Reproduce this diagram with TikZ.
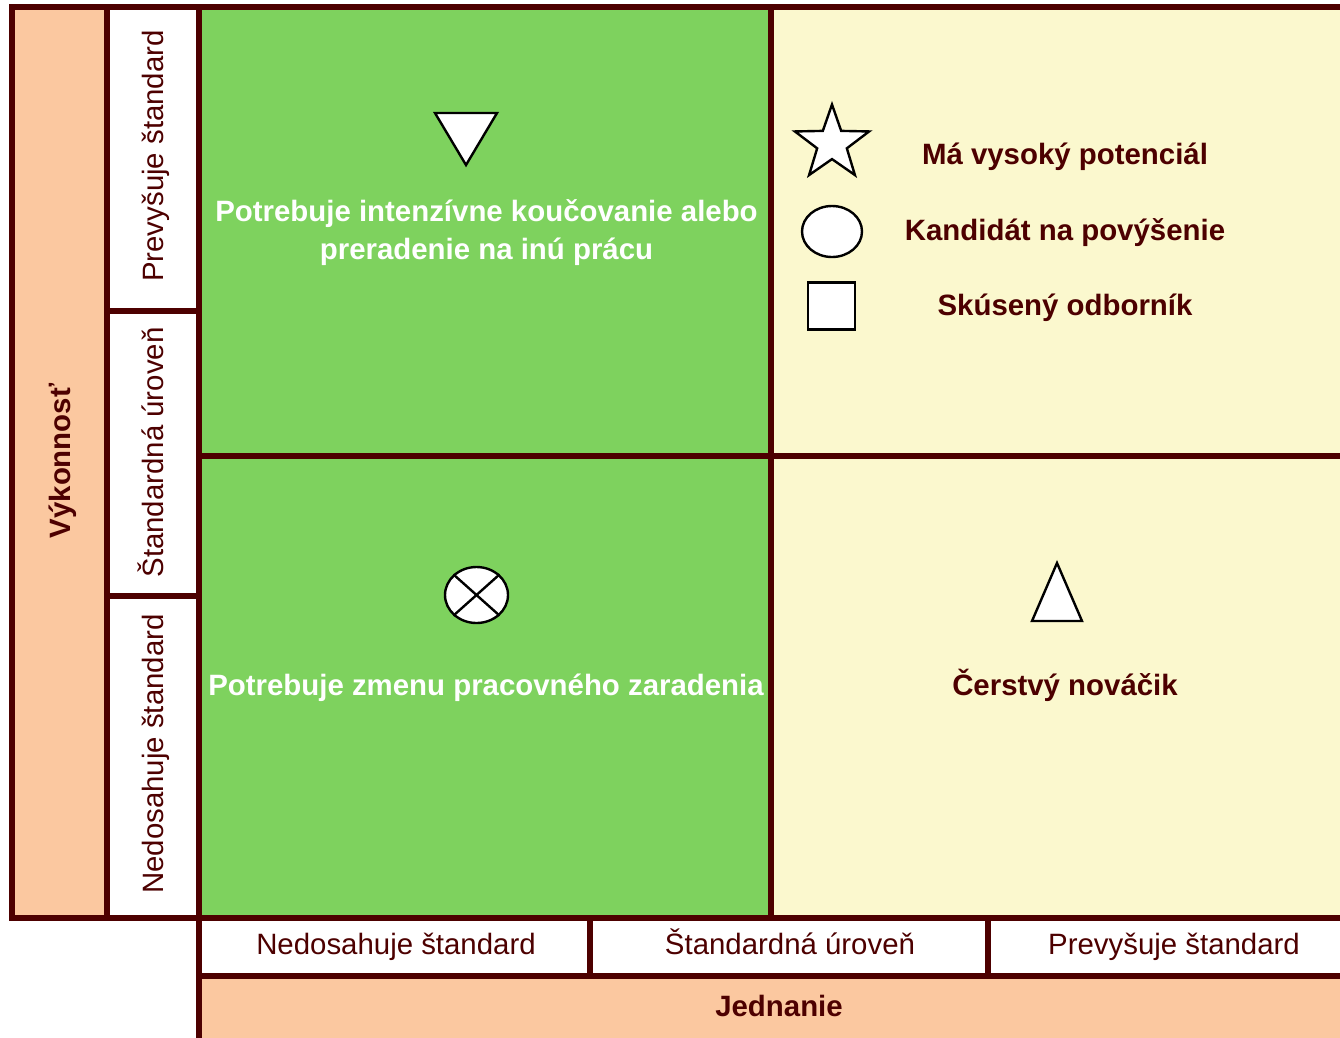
\documentclass[tikz,border=0pt]{standalone}
\usepackage{fontspec}
\setmainfont{Liberation Sans}
\usetikzlibrary{shapes.geometric}
\definecolor{bordc}{HTML}{4D0000}
\definecolor{greenq}{HTML}{7ED25E}
\definecolor{creamq}{HTML}{FBF8CE}
\definecolor{peachq}{HTML}{FBC8A0}
\begin{document}
\begin{tikzpicture}[x=1pt,y=-1pt,
  cell/.style={draw=bordc, line width=6pt, rectangle, anchor=north west, inner sep=0pt, outer sep=0pt},
  lbl/.style={text=bordc, font=\fontsize{29.4}{35}\selectfont, inner sep=0pt, anchor=base},
  blbl/.style={text=bordc, font=\fontsize{29.4}{38}\selectfont\bfseries, inner sep=0pt, anchor=base},
  wlbl/.style={blbl, text=white},
  sym/.style={draw=black, fill=white, line width=2.4pt, line join=miter}
]
\useasboundingbox (0,0) rectangle (1340,1037);
\fill[white] (0,0) rectangle (1340,1037);
% cells
\node[cell, fill=peachq, minimum width=95pt, minimum height=911pt] (vyk) at (12,7) {};
\node[cell, fill=white, minimum width=92pt, minimum height=304pt] (r1) at (107,7) {};
\node[cell, fill=white, minimum width=92pt, minimum height=285pt] (r2) at (107,311) {};
\node[cell, fill=white, minimum width=92pt, minimum height=322pt] (r3) at (107,596) {};
\node[cell, fill=greenq, minimum width=572pt, minimum height=449pt] (q1) at (199,7) {};
\node[cell, fill=greenq, minimum width=572pt, minimum height=462pt] (q3) at (199,456) {};
\node[cell, fill=creamq, minimum width=589pt, minimum height=449pt] (q2) at (771,7) {};
\node[cell, fill=creamq, minimum width=589pt, minimum height=462pt] (q4) at (771,456) {};
\node[cell, fill=white, minimum width=391pt, minimum height=58pt] (c1) at (199,918) {};
\node[cell, fill=white, minimum width=398pt, minimum height=58pt] (c2) at (590,918) {};
\node[cell, fill=white, minimum width=372pt, minimum height=58pt] (c3) at (988,918) {};
\node[cell, fill=peachq, minimum width=1161pt, minimum height=80pt] (jed) at (199,976) {};
% axis labels
\node[blbl, rotate=90] (tvyk) at (70.5,461) {Výkonnosť};
\node[lbl, rotate=90] (tr1) at (163.3,156) {Prevyšuje štandard};
\node[lbl, rotate=90] (tr2) at (163.3,452.5) {Štandardná úroveň};
\node[lbl, rotate=90] (tr3) at (163.3,754) {Nedosahuje štandard};
\node[lbl] (tc1) at (396,954.3) {Nedosahuje štandard};
\node[lbl] (tc2) at (790,954.3) {Štandardná úroveň};
\node[lbl] (tc3) at (1174,954.3) {Prevyšuje štandard};
\node[blbl] (tjed) at (779,1016.3) {Jednanie};
% quadrant texts
\node[wlbl] (tq1a) at (486.5,221.3) {Potrebuje intenzívne koučovanie alebo};
\node[wlbl] (tq1b) at (486.5,259.3) {preradenie na inú prácu};
\node[wlbl] (tq3) at (486,695.3) {Potrebuje zmenu pracovného zaradenia};
\node[blbl] (tq4) at (1065,695.3) {Čerstvý nováčik};
\node[blbl] (tq2a) at (1065,164.3) {Má vysoký potenciál};
\node[blbl] (tq2b) at (1065,240) {Kandidát na povýšenie};
\node[blbl] (tq2c) at (1065,315.5) {Skúsený odborník};
% symbols
\node[sym, star, star points=5, star point ratio=2.5, minimum size=78pt, inner sep=0pt] (star) at (832,143.5) {};
\node[sym, ellipse, minimum width=60pt, minimum height=51pt, inner sep=0pt] (ell) at (832,231.5) {};
\node[sym, rectangle, minimum size=47pt, inner sep=0pt] (sq) at (831.5,306) {};
\draw[sym] (435,113) -- (497,113) -- (466,165) -- cycle;
\draw[sym] (1057,563) -- (1082,621) -- (1032,621) -- cycle;
\node[sym, ellipse, minimum width=63pt, minimum height=56pt, inner sep=0pt] (cx) at (476.5,595) {};
\draw[line width=2.4pt] (cx.north west) -- (cx.south east);
\draw[line width=2.4pt] (cx.north east) -- (cx.south west);
\end{tikzpicture}
\end{document}
